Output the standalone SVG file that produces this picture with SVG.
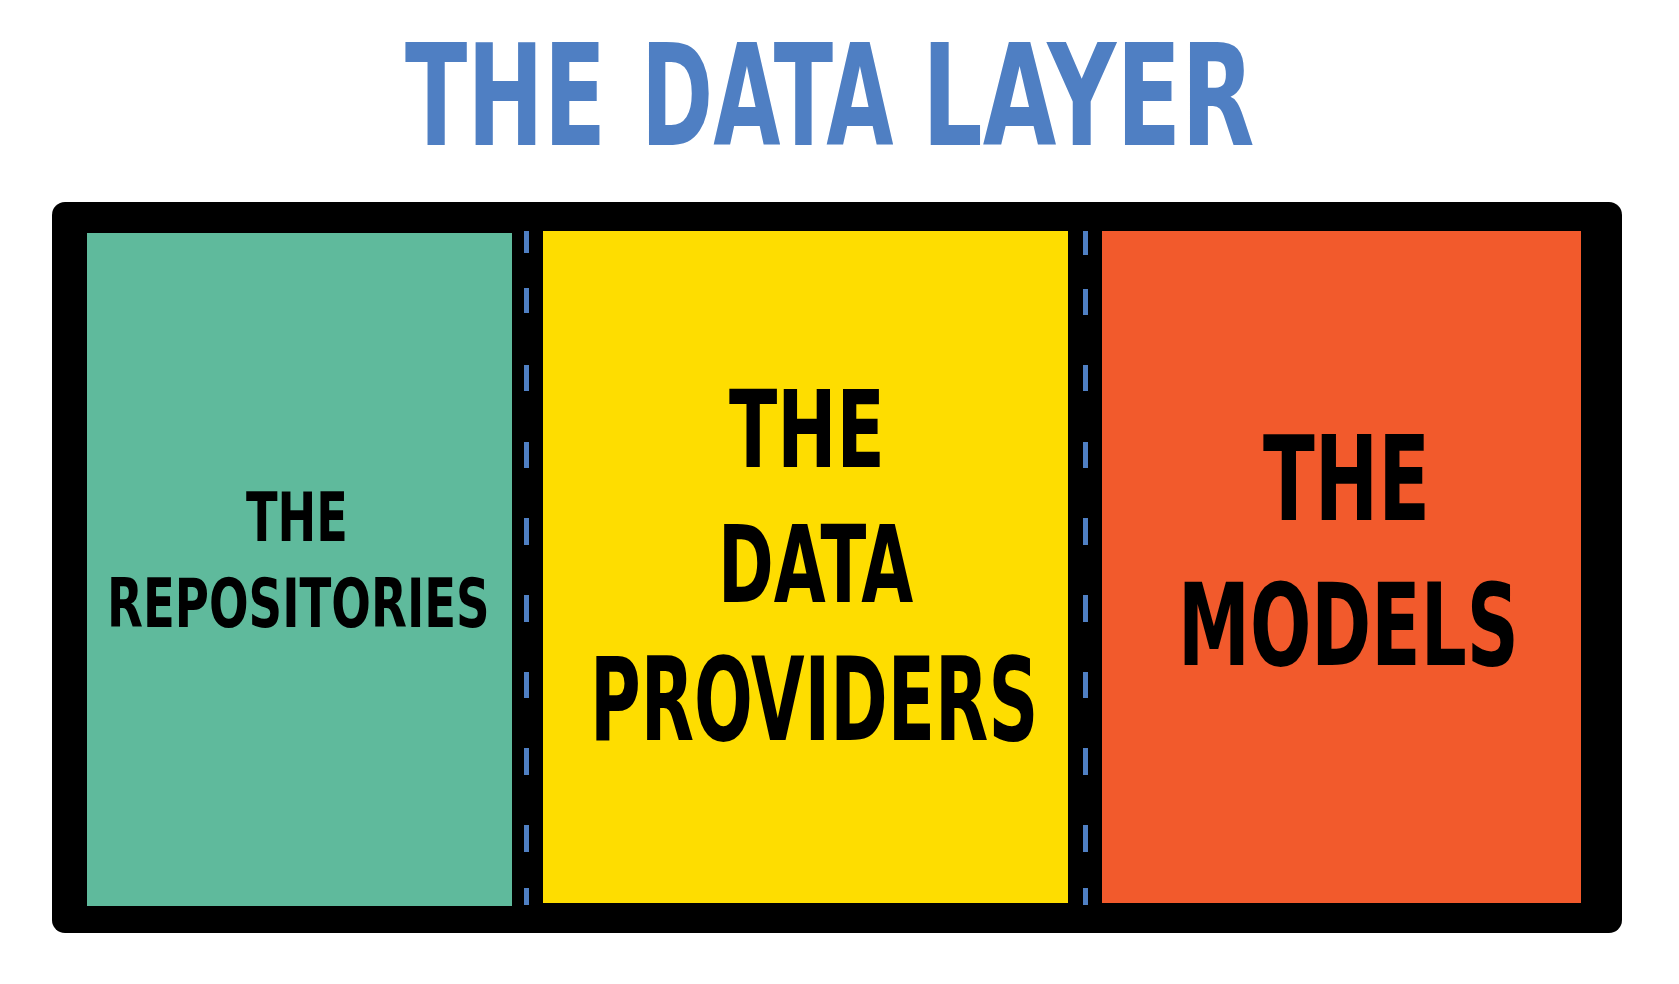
<svg xmlns="http://www.w3.org/2000/svg" width="1679" height="984" viewBox="0 0 1679 984">
<style>
.t{font-family:"DejaVu Sans","Liberation Sans",sans-serif;font-weight:bold;}
.title{fill:#4f7fc3;font-size:140px;}
.lbl{fill:#000;}
.dash{fill:#4f7fc3;}
</style>
<rect width="1679" height="984" fill="#ffffff"/>
<g id="title">
<text class="t title" transform="translate(405,145) scale(0.652,1)">THE</text>
<text class="t title" transform="translate(641,145) scale(0.621,1)">DATA</text>
<text class="t title" transform="translate(922,145) scale(0.68,1)">LAYER</text>
</g>
<g id="frame">
<rect x="52" y="202" width="1570" height="731" rx="13" fill="#000"/>
</g>
<g id="repositories">
<rect x="87" y="233" width="425" height="673" fill="#5fba9c"/>
<text class="t lbl" font-size="67" transform="translate(246,541) scale(0.691,1)">THE</text>
<text class="t lbl" font-size="68" transform="translate(107,627) scale(0.686,1)">REPOSITORIES</text>
</g>
<g id="providers">
<rect x="543" y="231" width="525" height="672" fill="#fedd00"/>
<text class="t lbl" font-size="107" transform="translate(729,467) scale(0.662,1)">THE</text>
<text class="t lbl" font-size="107" transform="translate(718,602) scale(0.628,1)">DATA</text>
<text class="t lbl" font-size="115" transform="translate(590,740) scale(0.602,1)">PROVIDERS</text>
</g>
<g id="models">
<rect x="1102" y="231" width="479" height="672" fill="#f25a2c"/>
<text class="t lbl" font-size="117" transform="translate(1263,520) scale(0.648,1)">THE</text>
<text class="t lbl" font-size="114" transform="translate(1178,665) scale(0.634,1)">MODELS</text>
</g>
<g id="connectors">
<g class="dash">
<rect x="524" y="231" width="5" height="22"/>
<rect x="524" y="288" width="5" height="25"/>
<rect x="524" y="365" width="5" height="26"/>
<rect x="524" y="442" width="5" height="26"/>
<rect x="524" y="518" width="5" height="27"/>
<rect x="524" y="595" width="5" height="27"/>
<rect x="524" y="672" width="5" height="26"/>
<rect x="524" y="748" width="5" height="27"/>
<rect x="524" y="825" width="5" height="27"/>
<rect x="524" y="888" width="5" height="17"/>
</g>
<g class="dash">
<rect x="1083" y="231" width="5" height="24"/>
<rect x="1083" y="289" width="5" height="26"/>
<rect x="1083" y="365" width="5" height="26"/>
<rect x="1083" y="442" width="5" height="26"/>
<rect x="1083" y="518" width="5" height="27"/>
<rect x="1083" y="595" width="5" height="27"/>
<rect x="1083" y="672" width="5" height="26"/>
<rect x="1083" y="748" width="5" height="27"/>
<rect x="1083" y="825" width="5" height="27"/>
<rect x="1083" y="888" width="5" height="17"/>
</g>
</g>
</svg>
